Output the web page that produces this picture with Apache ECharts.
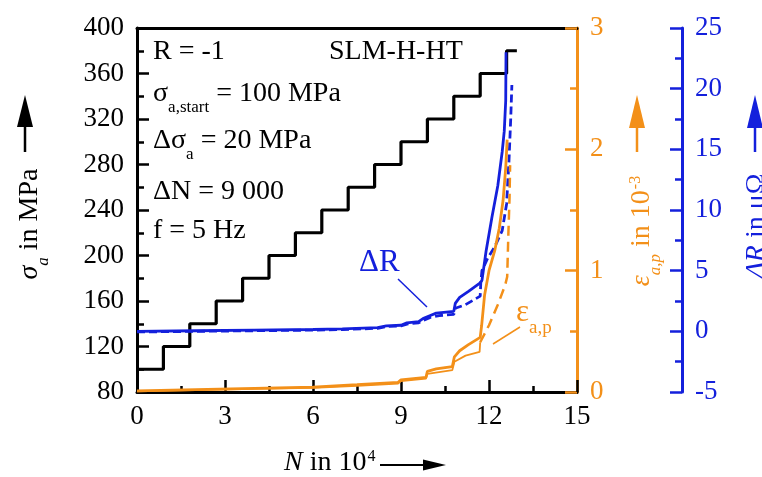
<!DOCTYPE html>
<html>
<head>
<meta charset="utf-8">
<script src="https://cdn.jsdelivr.net/npm/echarts@6/dist/echarts.min.js"></script>
<style>
  html, body { margin: 0; padding: 0; background: #ffffff; }
  #chart { width: 762px; height: 477px; }
</style>
</head>
<body>
<div id="chart"></div>
<script>
// ---- Load blocks: amplitude raised by 20 MPa every 9 000 cycles (N in 10^4) ----
const stepStartN = [0, 0.9, 1.8, 2.7, 3.6, 4.5, 5.4, 6.3, 7.2, 8.1, 9.0, 9.9, 10.8, 11.7, 12.6];
const stepSigma  = [100, 120, 140, 160, 180, 200, 220, 240, 260, 280, 300, 320, 340, 360, 380];
const failureN = 12.95;

// ---- Electrical resistance change, specimen A (solid) ----
const resANx = [0, 2, 4, 6, 7, 8.2, 8.5, 9.0, 9.2, 9.6, 9.75, 10.0, 10.2, 10.8, 10.85, 11.0, 11.3, 11.7, 11.76, 11.9, 12.1, 12.3, 12.45, 12.52, 12.57, 12.58];
const resA   = [0, 0.05, 0.1, 0.15, 0.2, 0.3, 0.45, 0.5, 0.7, 0.8, 1.05, 1.3, 1.5, 1.65, 2.3, 2.8, 3.3, 4.0, 4.2, 6.6, 9.4, 12.0, 14.8, 16.5, 19.0, 23.0];

// ---- Electrical resistance change, specimen B (dashed) ----
const resBNx = [0, 2, 4, 6, 7, 8.2, 8.5, 9.0, 9.2, 9.6, 9.75, 10.0, 10.3, 10.8, 10.85, 11.2, 11.7, 11.72, 11.76, 11.95, 12.2, 12.45, 12.6, 12.68, 12.74, 12.78];
const resB   = [-0.05, 0, 0.05, 0.1, 0.15, 0.25, 0.4, 0.45, 0.6, 0.7, 0.9, 1.15, 1.3, 1.4, 1.9, 2.2, 2.9, 4.0, 5.0, 6.0, 7.0, 8.3, 10.5, 14.0, 17.5, 20.3];

// ---- Plastic strain amplitude, specimen A (solid) ----
const epsANx = [0, 2, 4, 6, 7.5, 8.9, 9.0, 9.85, 9.9, 10.2, 10.75, 10.82, 11.0, 11.3, 11.7, 11.75, 11.85, 12.0, 12.2, 12.35, 12.48, 12.57, 12.62];
const epsA   = [0.01, 0.02, 0.03, 0.04, 0.06, 0.08, 0.1, 0.12, 0.17, 0.19, 0.21, 0.29, 0.34, 0.39, 0.45, 0.55, 0.8, 1.0, 1.17, 1.35, 1.58, 1.85, 2.08];

// ---- Plastic strain amplitude, specimen B (thin solid, dashed after the jump) ----
const epsBNx = [0, 2, 4, 6, 7.5, 8.9, 9.0, 9.85, 9.9, 10.75, 10.82, 11.2, 11.68, 11.7, 12.0, 12.3, 12.55, 12.62, 12.66, 12.7, 12.72];
const epsB   = [0.005, 0.015, 0.025, 0.035, 0.05, 0.07, 0.09, 0.11, 0.15, 0.18, 0.25, 0.3, 0.33, 0.41, 0.55, 0.72, 0.88, 0.95, 1.3, 1.6, 1.87];
const epsBDashFrom = 11.7;

const FONT = '"Liberation Serif", "Times New Roman", Times, serif';
const BLACK = '#000000';
const ORANGE = '#F39019';
const BLUE = '#1420DC';

const zip = (xs, ys) => xs.map((x, i) => [x, ys[i]]);

const sigmaData = stepStartN.map((n, i) => [n, stepSigma[i]]);
sigmaData.push([failureN, stepSigma[stepSigma.length - 1]]);

const epsBPairs = zip(epsBNx, epsB);
const epsBLow = epsBPairs.filter(p => p[0] <= epsBDashFrom);
const epsBHigh = epsBPairs.filter(p => p[0] >= epsBDashFrom);

function richFor(color) {
  return {
    m:  { fontFamily: FONT, fontSize: 28, lineHeight: 30, verticalAlign: 'top', fill: color },
    mi: { fontFamily: FONT, fontSize: 28, lineHeight: 30, verticalAlign: 'top', fill: color, fontStyle: 'italic' },
    b:  { fontFamily: FONT, fontSize: 31, lineHeight: 32, verticalAlign: 'top', fill: color },
    s:  { fontFamily: FONT, fontSize: 17, lineHeight: 18, padding: [19, 0, 0, 0], verticalAlign: 'top', fill: color },
    sb: { fontFamily: FONT, fontSize: 19, lineHeight: 20, padding: [22, 0, 0, 0], verticalAlign: 'top', fill: color },
    si: { fontFamily: FONT, fontSize: 17, lineHeight: 18, padding: [19, 0, 0, 0], verticalAlign: 'top', fill: color, fontStyle: 'italic' },
    sup:{ fontFamily: FONT, fontSize: 16, lineHeight: 16, padding: [0, 0, 0, 1], verticalAlign: 'top', fill: color }
  };
}

function txt(x, y, text, color, extra) {
  return Object.assign({
    type: 'text', x: x, y: y, z: 60, silent: true,
    style: {
      text: text, fill: color, fontFamily: FONT, fontSize: 28,
      align: 'left', verticalAlign: 'top', textAlign: 'left', textVerticalAlign: 'top',
      rich: richFor(color)
    }
  }, extra || {});
}

function vtxt(cx, cy, text, color) {
  return {
    type: 'text', x: cx, y: cy, rotation: Math.PI / 2, z: 60, silent: true,
    style: {
      text: text, fill: color, fontFamily: FONT, fontSize: 28,
      align: 'center', verticalAlign: 'middle', textAlign: 'center', textVerticalAlign: 'middle',
      rich: richFor(color)
    }
  };
}

// upward arrow: shaft plus filled head
function upArrow(x, tipY, baseY, endY, halfW, color) {
  return [
    { type: 'line', z: 60, silent: true, shape: { x1: x, y1: endY, x2: x, y2: baseY - 2 }, style: { stroke: color, lineWidth: 2.5 } },
    { type: 'polygon', z: 60, silent: true, shape: { points: [[x, tipY], [x - halfW, baseY], [x + halfW, baseY]] }, style: { fill: color } }
  ];
}

function rightArrow(y, startX, baseX, tipX, halfH, color) {
  return [
    { type: 'line', z: 60, silent: true, shape: { x1: startX, y1: y, x2: baseX + 2, y2: y }, style: { stroke: color, lineWidth: 2 } },
    { type: 'polygon', z: 60, silent: true, shape: { points: [[tipX, y], [baseX, y - halfH], [baseX, y + halfH]] }, style: { fill: color } }
  ];
}

function valueAxisStyle(color, labelMargin) {
  return {
    axisLine: { show: true, onZero: false, lineStyle: { color: color, width: 3 } },
    axisTick: { show: true, inside: true, length: 12, lineStyle: { color: color, width: 2.5 } },
    minorTick: { show: true, splitNumber: 2, length: 7, lineStyle: { color: color, width: 2.5 } },
    axisLabel: { color: color, fontFamily: FONT, fontSize: 27, margin: labelMargin },
    splitLine: { show: false },
    minorSplitLine: { show: false }
  };
}

const chart = echarts.init(document.getElementById('chart'), null, { renderer: 'canvas' });

const graphics = [
  txt(153, 38, '{m|R = -1}', BLACK),
  txt(329, 38, '{m|SLM-H-HT}', BLACK),
  txt(153, 80, '{m|σ}{s|a,start}{m| = 100 MPa}', BLACK),
  txt(153, 127, '{m|Δσ}{s|a}{m| = 20 MPa}', BLACK),
  txt(153, 178, '{m|ΔN = 9 000}', BLACK),
  txt(153, 217, '{m|f = 5 Hz}', BLACK),

  txt(359, 247, '{b|ΔR}', BLUE),
  { type: 'line', z: 60, silent: true, shape: { x1: 398, y1: 279, x2: 427, y2: 307 }, style: { stroke: BLUE, lineWidth: 1.5 } },
  txt(516, 297, '{b|ε}{sb|a,p}', ORANGE),
  { type: 'line', z: 60, silent: true, shape: { x1: 493, y1: 344, x2: 520, y2: 327 }, style: { stroke: ORANGE, lineWidth: 1.5 } },

  vtxt(31, 224, '{mi|σ}{si|a}{m| in MPa}', BLACK),
  ...upArrow(25, 95, 127, 152, 8, BLACK),
  vtxt(643, 231, '{mi|ε}{si|a,p}{m| in 10}{sup|-3}', ORANGE),
  ...upArrow(637, 95, 128, 152, 8, ORANGE),
  vtxt(758, 226, '{mi|ΔR}{m| in μΩ}', BLUE),
  ...upArrow(755, 95, 128, 152, 8, BLUE),

  txt(284, 449, '{mi|N}{m| in 10}{sup|4}', BLACK),
  ...rightArrow(465, 380, 423, 446, 5.5, BLACK)
];

chart.setOption({
  animation: false,
  backgroundColor: '#ffffff',
  grid: { left: 137, right: 185, top: 28, bottom: 85, containLabel: false, outerBoundsMode: 'none' },
  xAxis: [
    Object.assign({ type: 'value', min: 0, max: 15, interval: 3, position: 'bottom' }, valueAxisStyle(BLACK, 11), {
      axisTick: { show: true, inside: true, length: 12, lineStyle: { color: BLACK, width: 2.5 } },
      minorTick: { show: true, splitNumber: 2, length: 6, lineStyle: { color: BLACK, width: 2.5 } }
    }),
    { type: 'value', min: 0, max: 15, position: 'top',
      axisLine: { show: true, onZero: false, lineStyle: { color: BLACK, width: 3 } },
      axisTick: { show: false }, axisLabel: { show: false }, splitLine: { show: false } }
  ],
  yAxis: [
    Object.assign({ type: 'value', min: 80, max: 400, interval: 40, position: 'left' }, valueAxisStyle(BLACK, 13)),
    Object.assign({ type: 'value', min: 0, max: 3, interval: 1, position: 'right' }, valueAxisStyle(ORANGE, 13)),
    Object.assign({ type: 'value', min: -5, max: 25, interval: 5, position: 'right', offset: 105 }, valueAxisStyle(BLUE, 13))
  ],
  series: [
    { name: 'σa', type: 'line', xAxisIndex: 0, yAxisIndex: 0, step: 'end', data: sigmaData,
      showSymbol: false, symbol: 'none', lineStyle: { color: BLACK, width: 3.2 }, z: 3 },
    { name: 'ΔR A', type: 'line', xAxisIndex: 0, yAxisIndex: 2, data: zip(resANx, resA),
      showSymbol: false, symbol: 'none', lineStyle: { color: BLUE, width: 2.8 }, z: 4 },
    { name: 'ΔR B', type: 'line', xAxisIndex: 0, yAxisIndex: 2, data: zip(resBNx, resB),
      showSymbol: false, symbol: 'none', lineStyle: { color: BLUE, width: 2.8, type: [8, 4] }, z: 4 },
    { name: 'εa,p A', type: 'line', xAxisIndex: 0, yAxisIndex: 1, data: zip(epsANx, epsA),
      showSymbol: false, symbol: 'none', lineStyle: { color: ORANGE, width: 2.8 }, z: 5 },
    { name: 'εa,p B', type: 'line', xAxisIndex: 0, yAxisIndex: 1, data: epsBLow,
      showSymbol: false, symbol: 'none', lineStyle: { color: ORANGE, width: 1.8 }, z: 5 },
    { name: 'εa,p B', type: 'line', xAxisIndex: 0, yAxisIndex: 1, data: epsBHigh,
      showSymbol: false, symbol: 'none', lineStyle: { color: ORANGE, width: 2.5, type: [10, 6] }, z: 5 }
  ],
  graphic: graphics
});
</script>
</body>
</html>
